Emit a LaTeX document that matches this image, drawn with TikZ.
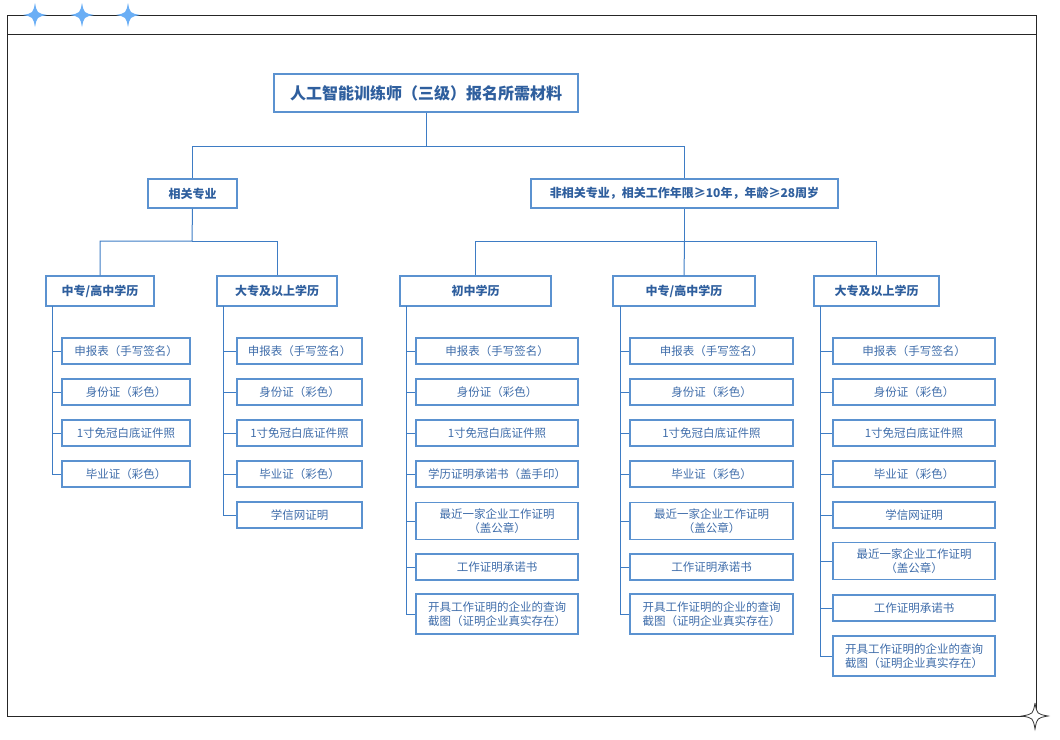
\documentclass[tikz,border=0pt]{standalone}
\usepackage{fontspec}
\setmainfont{Noto Sans CJK SC}
\definecolor{bx}{HTML}{5B92D0}
\definecolor{tx}{HTML}{2F5F9E}
\definecolor{lt}{HTML}{3F6DAA}
\definecolor{ln}{HTML}{3E7CC4}
\definecolor{st}{HTML}{6AAEF5}
\begin{document}
\begin{tikzpicture}[x=1pt,y=-1pt,
 box/.style={draw=bx,line width=1.1pt,fill=white,inner sep=0pt,align=center},
 head/.style={box,text=tx,font=\fontsize{12}{14}\selectfont\bfseries},
 leaf/.style={box,text=lt,font=\fontsize{11.5}{14}\selectfont,text width=#1},
 con/.style={draw=ln,line width=1pt}]
\useasboundingbox (0,0) rectangle (1060,739);
\draw[line width=0.8pt,black!85] (7,15) rectangle (1036,716) (7,34) -- (1036,34);
\foreach \x in {35,82,128}{
 \fill[st] (\x,3) .. controls (\x+2,13) .. (\x+12,15) .. controls (\x+2,17) .. (\x,27) .. controls (\x-2,17) .. (\x-12,15) .. controls (\x-2,13) .. (\x,3);}
\draw[fill=white,line width=0.8pt,draw=black!80] (1035,703) .. controls (1037,714) .. (1048,716) .. controls (1037,718) .. (1035,729) .. controls (1033,718) .. (1022,716) .. controls (1033,714) .. (1035,703);
% title
\node[head,font=\fontsize{16}{18}\selectfont\bfseries,minimum width=304,minimum height=38] (t) at (426,93) {人工智能训练师（三级）报名所需材料};
\node[head,minimum width=89,minimum height=29] (a) at (192.5,193.5) {相关专业};
\node[head,minimum width=307,minimum height=29] (b) at (684.5,193.5) {非相关专业，相关工作年限≥10年，年龄≥28周岁};
\draw[con] (t.south) -- (426,146) -| (a.north);
\draw[con] (426,146) -| (b.north);
\node[head,minimum width=108,minimum height=30] (c1) at (100,291) {中专/高中学历};
\node[head,minimum width=120,minimum height=30] (c2) at (277,291) {大专及以上学历};
\node[head,minimum width=151,minimum height=30] (c3) at (475.5,291) {初中学历};
\node[head,minimum width=142,minimum height=30] (c4) at (684,291) {中专/高中学历};
\node[head,minimum width=125,minimum height=30] (c5) at (876.5,291) {大专及以上学历};
\draw[con] (a.south) -- (192,241) -| (c1.north);
\draw[con] (192,241) -| (c2.north);
\draw[con] (b.south) -- (684.5,241) -| (c3.north);
\draw[con] (684.5,241) -| (c5.north);
\draw[con] (684.5,241) -- (c4.north);
\newcommand\lf[7]{\node[leaf=#3-#2-6pt,minimum width=#3-#2,minimum height=#5] (#1) at ({(#2+#3)/2},#4) {#6};
 \draw[con] (#7,#4) -- (#1.west);}
\foreach \n/\yy/\tt in {1/351/申报表（手写签名）,2/392/身份证（彩色）,3/433/1寸免冠白底证件照,4/474/毕业证（彩色）}{
 \lf{p\n}{62}{190}{\yy}{26}{\tt}{52}}
\draw[con] (52,306) -- (52,474);
\foreach \n/\yy/\tt in {1/351/申报表（手写签名）,2/392/身份证（彩色）,3/433/1寸免冠白底证件照,4/474/毕业证（彩色）,5/515/学信网证明}{
 \lf{q\n}{237}{362}{\yy}{26}{\tt}{223}}
\draw[con] (223,306) -- (223,515);
\foreach \n/\yy/\hh/\tt in {1/351/26/申报表（手写签名）,2/392/26/身份证（彩色）,3/433/26/1寸免冠白底证件照,4/474/26/学历证明承诺书（盖手印）,5/521/37/{最近一家企业工作证明\\（盖公章）},6/567/26/工作证明承诺书,7/614/40/{开具工作证明的企业的查询\\截图（证明企业真实存在）}}{
 \lf{r\n}{416}{578}{\yy}{\hh}{\tt}{406}}
\draw[con] (406,306) -- (406,614);
\foreach \n/\yy/\hh/\tt in {1/351/26/申报表（手写签名）,2/392/26/身份证（彩色）,3/433/26/1寸免冠白底证件照,4/474/26/毕业证（彩色）,5/521/37/{最近一家企业工作证明\\（盖公章）},6/567/26/工作证明承诺书,7/614/40/{开具工作证明的企业的查询\\截图（证明企业真实存在）}}{
 \lf{s\n}{630}{793}{\yy}{\hh}{\tt}{620}}
\draw[con] (620,306) -- (620,614);
\foreach \n/\yy/\hh/\tt in {1/351/26/申报表（手写签名）,2/392/26/身份证（彩色）,3/433/26/1寸免冠白底证件照,4/474/26/毕业证（彩色）,5/515/26/学信网证明,6/561/37/{最近一家企业工作证明\\（盖公章）},7/608/26/工作证明承诺书,8/656/40/{开具工作证明的企业的查询\\截图（证明企业真实存在）}}{
 \lf{u\n}{833}{995}{\yy}{\hh}{\tt}{820}}
\draw[con] (820,306) -- (820,656);
\end{tikzpicture}
\end{document}
